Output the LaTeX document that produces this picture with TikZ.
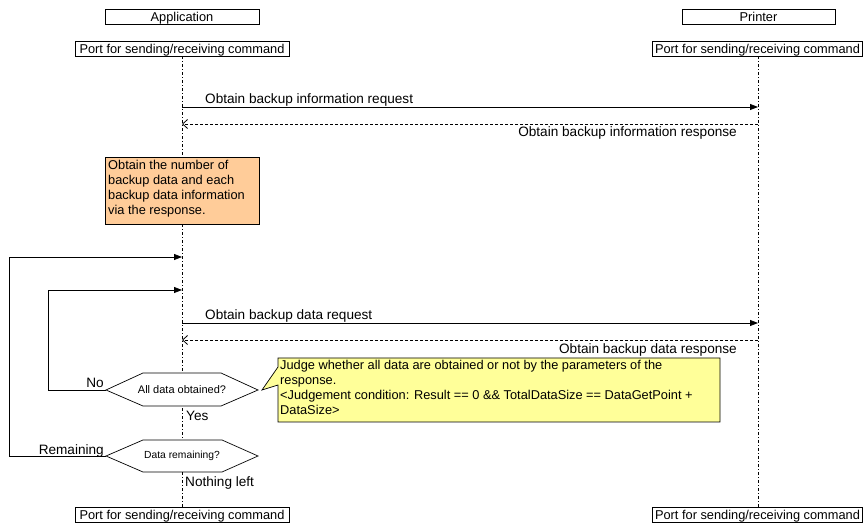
\documentclass[tikz,border=0pt]{standalone}
\usepackage{fontspec}
\setmainfont{Liberation Sans}
\usetikzlibrary{arrows.meta}
\begin{document}
\begin{tikzpicture}[x=1pt,y=-1pt,
  box/.style={draw,line width=0.7pt,minimum height=15pt,inner sep=0pt,text height=10.5pt,text depth=1.3pt,font=\fontsize{12.8}{14}\selectfont},
  life/.style={line width=0.6pt,dash pattern=on 3pt off 2pt on 1pt off 2pt},
  msg/.style={line width=0.8pt,-{Triangle[length=8pt,width=6pt]}},
  reply/.style={line width=0.8pt,dash pattern=on 3pt off 2pt,-{Straight Barb[length=5pt,width=9pt]}},
  lbl/.style={font=\fontsize{13.6}{15}\selectfont,inner sep=0pt},
  notetext/.style={font=\fontsize{12.8}{15}\selectfont,inner sep=0pt,align=left,anchor=north west},
  hexa/.style={draw,fill=white,line width=0.7pt},
  hextext/.style={inner sep=0pt},
]
\useasboundingbox (0,0) rectangle (863,526);

% header boxes
\node[box,minimum width=154pt] (app) at (182,16.5) {Application};
\node[box,minimum width=153pt] (prn) at (758.5,16.5) {Printer};
\node[box,minimum width=214pt] (pat) at (182,48.5) {Port for sending/receiving command};
\node[box,minimum width=210pt] (ppt) at (757.5,48.5) {Port for sending/receiving command};
\node[box,minimum width=214pt] (pab) at (182,514.5) {Port for sending/receiving command};
\node[box,minimum width=210pt] (ppb) at (757.5,514.5) {Port for sending/receiving command};

% lifelines
\draw[life] (pat.south) -- (pab.north);
\draw[life] (ppt.south -| 758,0) -- (ppb.north -| 758,0);

% points on lifelines
\coordinate (a1) at (182,107); \coordinate (p1) at (758,107);
\coordinate (a2) at (182,124); \coordinate (p2) at (758,124);
\coordinate (a3) at (182,257);
\coordinate (a4) at (182,290);
\coordinate (a5) at (182,323); \coordinate (p5) at (758,323);
\coordinate (a6) at (182,340); \coordinate (p6) at (758,340);

% messages
\draw[msg] (a1) -- (p1);
\node[lbl,anchor=base west] (m1) at (205,104) {Obtain backup information request};
\draw[reply] (p2) -- (a2);
\node[lbl,anchor=base east] (m2) at (737,137) {Obtain backup information response};

% orange note
\draw[fill={rgb,255:red,255;green,204;blue,153},line width=0.7pt] (105,157) rectangle (259,224);
\node[notetext] (n1) at (108,160.5) {Obtain the number of\\backup data and each\\backup data information\\via the response.};

\draw[msg] (a5) -- (p5);
\node[lbl,anchor=base west] (m5) at (205,320) {Obtain backup data request};
\draw[reply] (p6) -- (a6);
\node[lbl,anchor=base east] (m6) at (737,354) {Obtain backup data response};

% hexagon 1
\coordinate (h1w) at (106,390);
\coordinate (h1e) at (258,390);
\draw[hexa] (h1w) -- (143,373) -- (221,373) -- (h1e) -- (221,406) -- (143,406) -- cycle;
\node[hextext,font=\fontsize{11}{13}\selectfont] (q1) at (182,390) {All data obtained?};

% hexagon 2
\coordinate (h2w) at (106,456);
\draw[hexa] (h2w) -- (143,440) -- (222,440) -- (258,456) -- (222,472) -- (143,472) -- cycle;
\node[hextext,font=\fontsize{10.3}{12}\selectfont] (q2) at (182,456) {Data remaining?};

% loops
\coordinate (l1) at (48,290);
\coordinate (l2) at (9,257);
\draw[msg] (h1w) -| (l1) -- (a4);
\draw[msg] (h2w) -| (l2) -- (a3);

\node[lbl,anchor=base east] (no) at (104,388) {No};
\node[lbl,anchor=base west] (yes) at (186,421) {Yes};
\node[lbl,anchor=base east] (rem) at (104,455) {Remaining};
\node[lbl,anchor=base west] (nl) at (185,487) {Nothing left};

% yellow note with pointer
\draw[fill={rgb,255:red,255;green,255;blue,153},line width=0.7pt]
  (278,358) -- (720,358) -- (720,422) -- (278,422) -- (278,385) -- (262,390) -- (278,367) -- cycle;
\node[notetext] (n2) at (280,360.5) {Judge whether all data are obtained or not by the parameters of the\\response.\\<Judgement condition: Result == 0 \&\& TotalDataSize == DataGetPoint +\\DataSize>};
\end{tikzpicture}
\end{document}
